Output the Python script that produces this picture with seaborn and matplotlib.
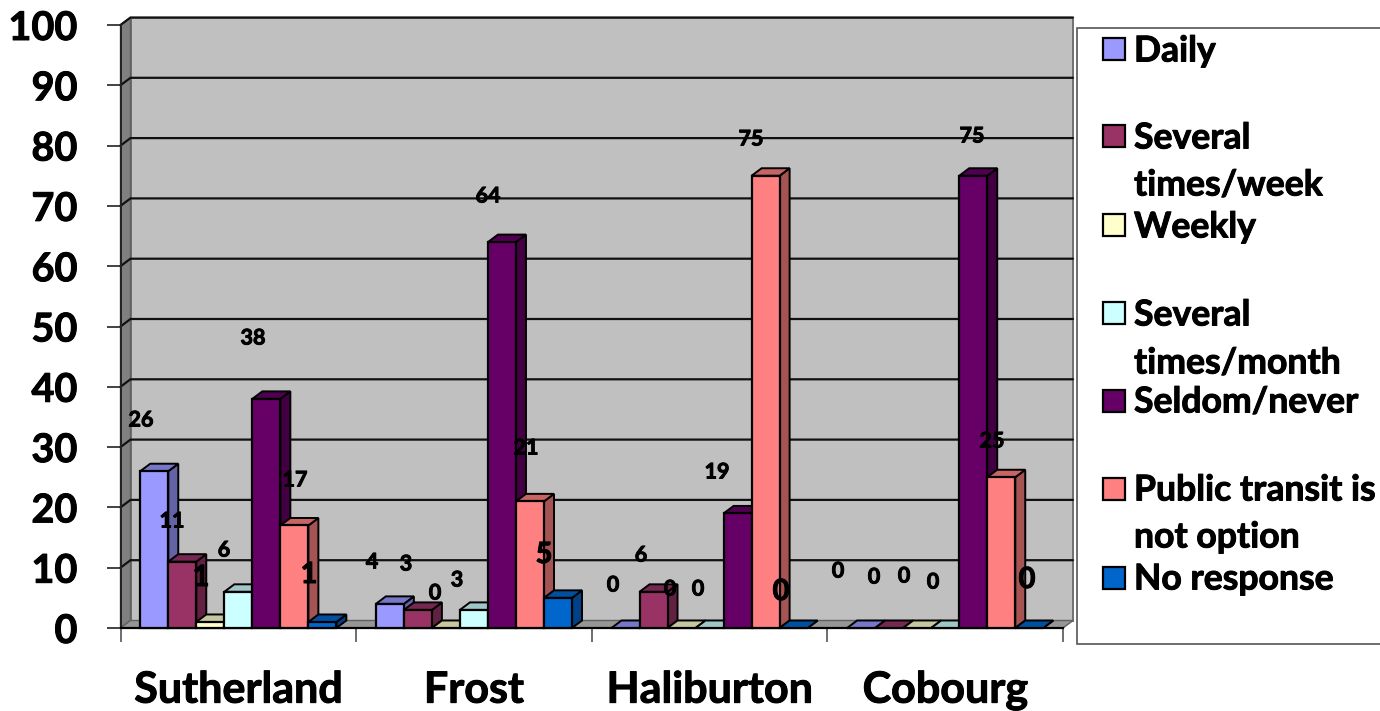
# -------------------------------
# Import required libraries
# -------------------------------
import pandas as pd
import matplotlib
matplotlib.use("Agg")
import matplotlib.pyplot as plt
import matplotlib.colors as mcolors
import matplotlib.patheffects as pe
from matplotlib.patches import Polygon, Rectangle
import seaborn as sns

sns.set_style("white")
plt.rcParams['font.family'] = ['Lato', 'DejaVu Sans']
plt.rcParams['font.weight'] = 'bold'
plt.rcParams['text.color'] = 'black'
plt.rcParams['xtick.labelcolor'] = 'black'
plt.rcParams['ytick.labelcolor'] = 'black'

# -------------------------------
# Data
# -------------------------------
sites = ["Sutherland", "Frost", "Haliburton", "Cobourg"]
frequencies = ["Daily", "Several times/week", "Weekly", "Several times/month",
               "Seldom/never", "Public transit is not option", "No response"]
sutherland = [26, 11, 1, 6, 38, 17, 1]
frost = [4, 3, 0, 3, 64, 21, 5]
haliburton = [0, 6, 0, 0, 19, 75, 0]
cobourg = [0, 0, 0, 0, 75, 25, 0]
colors = ["#9999FF", "#993366", "#FFFFCC", "#CCFFFF", "#660066", "#FF8080", "#0066CC"]

# -------------------------------
# Layout (pixels of the final image)
# -------------------------------
W, H = 1380, 711
PLOT_L, PLOT_R, PLOT_T, PLOT_B = 120.5, 1063, 25, 628
DEPTH_X, DEPTH_Y = 10, 7.5

# where the stray data labels sit: (x, y, big font?) in the same order as the data
label_spots = [
    [(141, 420, 0), (172, 521, 0), (201, 578, 1), (224, 550, 0), (253, 338, 0), (295, 480, 0), (309, 575, 1)],
    [(372, 562, 0), (406, 564, 0), (435, 593, 0), (457, 580, 0), (488, 196, 0), (526, 448, 0), (544, 555, 1)],
    [(613, 585, 0), (641, 555, 0), (670, 589, 0), (698, 589, 0), (717, 472, 0), (751, 139, 0), (781, 592, 1)],
    [(838, 571, 0), (874, 577, 0), (904, 576, 0), (933, 582, 0), (972, 136, 0), (992, 441, 0), (1027, 580, 1)],
]

# legend rows: label lines, swatch y, y of every text line
legend_rows = [
    (["Daily"], 49, [51]),
    (["Several", "times/week"], 136, [138, 185]),
    (["Weekly"], 225, [227]),
    (["Several", "times/month"], 313, [315, 363]),
    (["Seldom/never"], 401, [402]),
    (["Public transit is", "not option"], 489, [490, 537]),
    (["No response"], 578, [579]),
]

# small outline so the text gets as heavy as in the original
heavy = [pe.withStroke(linewidth=0.7, foreground="black")]

# -------------------------------
# Build the table and the front faces of the bars
# -------------------------------
values = [sutherland, frost, haliburton, cobourg]
rows = []
for site, vals in zip(sites, values):
    for freq, val in zip(frequencies, vals):
        rows.append({"site": site, "freq": freq, "pct": val})
df = pd.DataFrame(rows)

fig = plt.figure(figsize=(W / 100, H / 100), dpi=100)
ax = fig.add_axes([PLOT_L / W, 1 - PLOT_B / H, (PLOT_R - PLOT_L) / W, (PLOT_B - PLOT_T) / H])

sns.barplot(data=df, x="site", y="pct", hue="freq", order=sites, hue_order=frequencies,
            palette=colors, width=0.8325, gap=0, saturation=1, edgecolor="black",
            linewidth=1.6, legend=False, ax=ax)

ax.set_xlim(-0.5, 3.5)
ax.set_ylim(0, 100)
ax.set_xlabel("")
ax.set_ylabel("")

# depth of the fake 3D box, in data units
dx = DEPTH_X / ((PLOT_R - PLOT_L) / 4)
dy = DEPTH_Y / ((PLOT_B - PLOT_T) / 100)
x0, x1 = -0.5, 3.5

# -------------------------------
# Walls, floor and gridlines
# -------------------------------
ax.add_patch(Polygon([(x0 + dx, dy), (x1 + dx, dy), (x1 + dx, 100 + dy), (x0 + dx, 100 + dy)],
                     closed=True, fc="#C0C0C0", ec="#707070", lw=1.4, zorder=0.5, clip_on=False))
ax.add_patch(Polygon([(x0, 0), (x0 + dx, dy), (x0 + dx, 100 + dy), (x0, 100)],
                     closed=True, fc="#808080", ec="#606060", lw=1, zorder=0.6, clip_on=False))
ax.add_patch(Polygon([(x0, 0), (x1, 0), (x1 + dx, dy), (x0 + dx, dy)],
                     closed=True, fc="#969696", ec="#606060", lw=1, zorder=0.6, clip_on=False))
for tick in range(10, 101, 10):
    ax.plot([x0, x0 + dx, x1 + dx], [tick, tick + dy, tick + dy], color="#111111", lw=1.6,
            zorder=0.8, clip_on=False, solid_joinstyle="miter")

# -------------------------------
# Side and top of each bar, painted left to right
# -------------------------------
for h, container in enumerate(ax.containers):
    for g, bar in enumerate(container):
        left = bar.get_x()
        right = left + bar.get_width()
        top = bar.get_height()
        z = 3 + (g * 7 + h) * 0.1
        base = mcolors.to_rgb(colors[h])
        side_color = tuple(c * 0.65 for c in base)
        top_color = tuple(c * 0.78 for c in base)
        ax.add_patch(Polygon([(right, 0), (right + dx, dy), (right + dx, top + dy), (right, top)],
                             closed=True, fc=side_color, ec="black", lw=1.4, zorder=z, clip_on=False))
        ax.add_patch(Polygon([(left, top), (right, top), (right + dx, top + dy), (left + dx, top + dy)],
                             closed=True, fc=top_color, ec="black", lw=1.4, zorder=z, clip_on=False))
        bar.set_zorder(z + 0.05)
        bar.set_clip_on(False)

# -------------------------------
# Axes, ticks and labels
# -------------------------------
sns.despine(ax=ax, top=True, right=True)
ax.spines["left"].set_linewidth(1.4)
ax.spines["left"].set_color("#222222")
ax.spines["left"].set_zorder(1)
ax.spines["bottom"].set_linewidth(1.6)
ax.spines["bottom"].set_color("black")
ax.spines["bottom"].set_zorder(2)

ax.set_yticks(range(0, 101, 10))
ax.tick_params(axis="y", left=True, length=10, width=1.2, color="#222222", pad=21, labelsize=28.5, labelcolor="black")
ax.set_xticks([-0.5, 0.5, 1.5, 2.5, 3.5], minor=True)
ax.tick_params(axis="x", which="major", bottom=False, length=0, pad=30, labelsize=31, labelcolor="black")
ax.tick_params(axis="x", which="minor", bottom=True, length=10, width=1.2, color="#555555")
for lab in ax.get_xticklabels() + ax.get_yticklabels():
    lab.set_fontweight("bold")
    lab.set_path_effects(heavy)

# -------------------------------
# Data labels, they float around in the original
# -------------------------------
for vals, spots in zip(values, label_spots):
    for val, (px, py, big) in zip(vals, spots):
        fig.text(px / W, 1 - py / H, str(val), ha="center", va="center", path_effects=heavy,
                 fontsize=21 if big else 15.5, fontweight="bold", color="black", zorder=20)

# -------------------------------
# Legend box drawn by hand because of the even row spacing
# -------------------------------
fig.add_artist(Rectangle((1077 / W, 1 - 644 / H), 320 / W, 616 / H, transform=fig.transFigure,
                         fc="white", ec="#555555", lw=1.2))
for color, (lines, swatch_y, text_ys) in zip(colors, legend_rows):
    fig.add_artist(Rectangle((1103 / W, 1 - (swatch_y + 11) / H), 22 / W, 22 / H,
                             transform=fig.transFigure, fc=color, ec="black", lw=1.6))
    for line, ty in zip(lines, text_ys):
        fig.text(1134 / W, 1 - ty / H, line, ha="left", va="center", path_effects=heavy,
                 fontsize=25.6, fontweight="bold", color="black")

fig.savefig("out.png", dpi=100)
